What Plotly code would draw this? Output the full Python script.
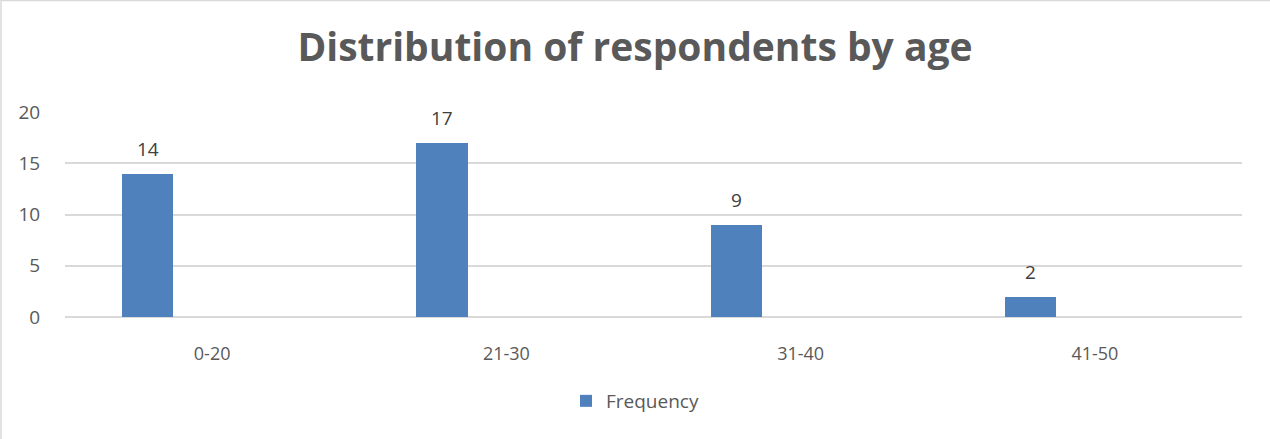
import plotly.graph_objects as go

# Age groups and respondent counts
age_groups = ["0-20", "21-30", "31-40", "41-50"]
frequency = [14, 17, 9, 2]
y_ticks = [0, 5, 10, 15, 20]

W, H = 1270, 439
L, R, T, B = 65, 28, 112, 122
plot_w = W - L - R
plot_h = H - T - B

bar_color = "#4F81BD"
text_grey = "#595959"

positions = list(range(len(age_groups)))
bar_offset = -0.306
bar_width = 0.174

fig = go.Figure()
fig.add_trace(go.Bar(
    x=positions,
    y=frequency,
    name="Frequency",
    offset=bar_offset,
    width=bar_width,
    marker=dict(color=bar_color, line=dict(width=0)),
    showlegend=True,
))

# value labels above each bar
for p, v in zip(positions, frequency):
    fig.add_annotation(
        x=p + bar_offset + bar_width / 2, y=v,
        text=str(v), showarrow=False,
        yanchor="middle", yshift=25,
        font=dict(size=19, color="#404040"),
    )

# thin frame around the chart
def px_x(px):
    return (px - L) / plot_w

def px_y(py):
    return (H - B - py) / plot_h

fig.add_shape(
    type="rect", xref="paper", yref="paper",
    x0=px_x(1), x1=px_x(W + 5), y0=px_y(0.5), y1=px_y(H + 5),
    line=dict(color="#D9D9D9", width=1.5), fillcolor="rgba(0,0,0,0)",
    layer="below",
)

fig.update_layout(
    width=W, height=H,
    margin=dict(l=L, r=R, t=T, b=B, pad=0),
    paper_bgcolor="white", plot_bgcolor="white",
    font=dict(family="Open Sans, Liberation Sans, sans-serif", color=text_grey),
    title=dict(
        text="<b>Distribution of respondents by age</b>",
        x=0.5, xanchor="center", xref="container",
        y=1 - 47 / H, yanchor="middle", yref="container",
        font=dict(size=39, color=text_grey),
    ),
    xaxis=dict(
        range=[-0.5, len(age_groups) - 0.5],
        tickvals=positions, ticktext=age_groups,
        showgrid=False, zeroline=False, showline=False,
        ticks="outside", ticklen=20, tickcolor="rgba(0,0,0,0)",
        tickfont=dict(size=18, color=text_grey),
        fixedrange=True,
    ),
    yaxis=dict(
        range=[0, 20], tickvals=y_ticks,
        showgrid=True, gridcolor="#D9D9D9", gridwidth=1.5,
        zeroline=True, zerolinecolor="#D9D9D9", zerolinewidth=1.5,
        showline=False,
        ticks="outside", ticklen=20, tickcolor="rgba(0,0,0,0)",
        tickfont=dict(size=19, color=text_grey),
        fixedrange=True,
    ),
    legend=dict(
        orientation="h", x=px_x(566), xanchor="left",
        y=px_y(401), yanchor="middle",
        font=dict(size=19, color=text_grey),
        itemwidth=30,
    ),
    bargap=0,
)

fig.write_html("out.html")
